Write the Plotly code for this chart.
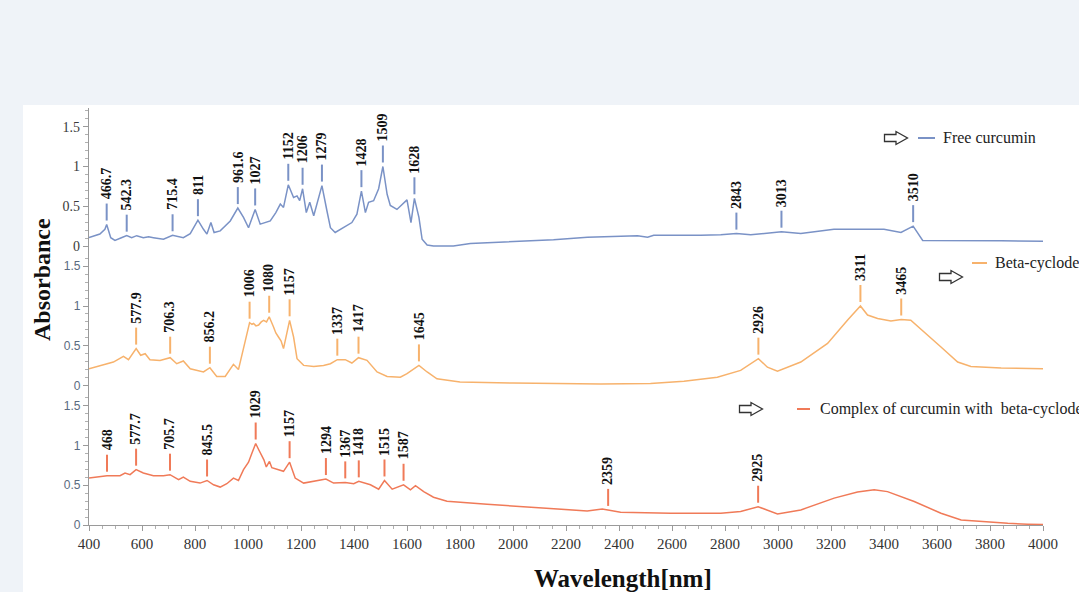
import numpy as np
import plotly.graph_objects as go

# ---- spectra (wavelength in nm, absorbance) ----
wl_free = [400, 441, 460, 466.7, 482, 498, 520, 542.3, 561, 580, 605, 625, 643, 681, 715.4, 735,
           756, 782, 811, 832, 845, 860, 872, 895, 933, 961.6, 983, 1002, 1027, 1046, 1084, 1105,
           1122, 1134, 1152, 1172, 1185, 1195, 1206, 1220, 1233, 1248, 1266, 1279, 1298, 1311,
           1329, 1361, 1392, 1411, 1428, 1443, 1455, 1474, 1493, 1509, 1525, 1537, 1562, 1600,
           1615, 1628, 1645, 1657, 1676, 1700, 1775, 1839, 1964, 2153, 2281, 2470, 2508, 2531,
           2708, 2784, 2843, 2897, 3013, 3086, 3211, 3400, 3464, 3510, 3546, 3653, 3842, 4000]
abs_free = [0.105, 0.15, 0.21, 0.27, 0.105, 0.07, 0.10, 0.13, 0.105, 0.13, 0.105, 0.115, 0.105,
            0.085, 0.135, 0.12, 0.105, 0.155, 0.325, 0.21, 0.15, 0.295, 0.17, 0.19, 0.315, 0.477,
            0.36, 0.23, 0.46, 0.275, 0.315, 0.42, 0.527, 0.485, 0.77, 0.61, 0.63, 0.57, 0.72,
            0.42, 0.55, 0.38, 0.61, 0.76, 0.44, 0.23, 0.17, 0.23, 0.295, 0.40, 0.69, 0.42, 0.55,
            0.57, 0.72, 1.0, 0.65, 0.51, 0.46, 0.58, 0.295, 0.60, 0.36, 0.085, 0.013, 0.0, 0.0,
            0.03, 0.05, 0.08, 0.11, 0.13, 0.11, 0.135, 0.135, 0.14, 0.156, 0.14, 0.18, 0.156,
            0.21, 0.21, 0.17, 0.25, 0.07, 0.065, 0.065, 0.06]

wl_beta = [400, 442, 492, 530, 549, 577.9, 595, 612, 630, 668, 706.3, 731, 756, 782, 832, 856.2,
           882, 914, 945, 964, 983, 1006, 1015, 1021, 1030, 1040, 1050, 1059, 1070, 1080, 1096,
           1105, 1115, 1125, 1134, 1147, 1157, 1172, 1185, 1210, 1248, 1285, 1311, 1337, 1367,
           1392, 1417, 1449, 1487, 1525, 1575, 1600, 1645, 1676, 1713, 1800, 2000, 2331, 2519,
           2645, 2771, 2859, 2926, 2960, 2998, 3086, 3187, 3262, 3288, 3311, 3338, 3376, 3426,
           3465, 3501, 3552, 3615, 3678, 3728, 3842, 4000]
abs_beta = [0.21, 0.25, 0.295, 0.367, 0.325, 0.464, 0.38, 0.40, 0.325, 0.316, 0.35, 0.274, 0.308,
            0.21, 0.17, 0.224, 0.114, 0.114, 0.266, 0.2, 0.485, 0.79, 0.77, 0.78, 0.75, 0.76,
            0.80, 0.82, 0.80, 0.865, 0.74, 0.66, 0.61, 0.56, 0.464, 0.654, 0.82, 0.61, 0.337,
            0.253, 0.24, 0.253, 0.274, 0.325, 0.325, 0.283, 0.35, 0.316, 0.17, 0.114, 0.105,
            0.148, 0.253, 0.17, 0.084, 0.045, 0.03, 0.02, 0.025, 0.055, 0.105, 0.19, 0.338, 0.23,
            0.18, 0.295, 0.53, 0.82, 0.92, 1.0, 0.886, 0.844, 0.81, 0.83, 0.82, 0.675, 0.485,
            0.295, 0.24, 0.22, 0.21]

wl_complex = [400, 442, 468, 517, 536, 555, 577.7, 605, 643, 681, 705.7, 738, 756, 782, 819, 845.5,
              870, 895, 920, 945, 964, 983, 1002, 1015, 1029, 1040, 1050, 1060, 1069, 1081, 1090,
              1110, 1134, 1157, 1178, 1210, 1248, 1294, 1323, 1367, 1399, 1418, 1462, 1493, 1515,
              1544, 1587, 1613, 1632, 1663, 1700, 1751, 1902, 2091, 2280, 2337, 2359, 2406, 2595,
              2784, 2859, 2925, 2998, 3086, 3212, 3300, 3363, 3413, 3514, 3615, 3691, 3766, 3867,
              3942, 4000]
abs_complex = [0.59, 0.61, 0.62, 0.62, 0.654, 0.633, 0.696, 0.654, 0.62, 0.62, 0.633, 0.57, 0.603,
               0.549, 0.527, 0.56, 0.506, 0.477, 0.519, 0.59, 0.56, 0.696, 0.79, 0.907, 1.025,
               0.95, 0.88, 0.82, 0.73, 0.80, 0.72, 0.70, 0.675, 0.79, 0.59, 0.527, 0.549, 0.578,
               0.527, 0.536, 0.519, 0.549, 0.506, 0.451, 0.56, 0.451, 0.506, 0.443, 0.494, 0.42,
               0.35, 0.30, 0.26, 0.22, 0.177, 0.20, 0.19, 0.16, 0.148, 0.148, 0.17, 0.23, 0.14,
               0.19, 0.338, 0.414, 0.443, 0.42, 0.295, 0.148, 0.063, 0.042, 0.021, 0.01, 0.005]

# ---- peak labels ----
peaks_free = ["466.7", "542.3", "715.4", "811", "961.6", "1027", "1152", "1206", "1279", "1428",
              "1509", "1628", "2843", "3013", "3510"]
peaks_beta = ["577.9", "706.3", "856.2", "1006", "1080", "1157", "1337", "1417", "1645", "2926",
              "3311", "3465"]
peaks_complex = ["468", "577.7", "705.7", "845.5", "1029", "1157", "1294", "1367", "1418", "1515",
                 "1587", "2359", "2925"]

series_names = ["Free curcumin", "Beta-cyclodextrin", "Complex of curcumin with  beta-cyclodextrin"]
colors = ["#7a92c6", "#f7b26c", "#f07a58"]

x_ticks = list(range(400, 4001, 200))
y_ticks = [0, 0.5, 1, 1.5]
y_ticktext = ["0", "0.5", "1", "1.5"]

# ---- figure geometry (pixels) ----
W, H = 1079, 592
ML, MR, MT, MB = 89, 36, 100, 67
PW, PH = W - ML - MR, H - MT - MB
PX_PER_UNIT = 79.5


def px_x(x):
    return (x - ML) / PW


def px_y(y):
    return (H - MB - y) / PH


# panel i: (zero line px, bottom px, top px)
panels = [(246, 252, 108), (385.5, 392, 252), (525, 525, 392)]

fig = go.Figure()
spectra = [(wl_free, abs_free), (wl_beta, abs_beta), (wl_complex, abs_complex)]
peak_sets = [peaks_free, peaks_beta, peaks_complex]
axis_ids = ["y", "y2", "y3"]

for i, ((wl, ab), name, col) in enumerate(zip(spectra, series_names, colors)):
    fig.add_trace(go.Scatter(x=wl, y=ab, mode="lines", name=name,
                             line=dict(color=col, width=1.5), xaxis="x", yaxis=axis_ids[i],
                             showlegend=False, hoverinfo="x+y"))

layout_axes = {}
for i, (zero, bot, top) in enumerate(panels):
    key = "yaxis" if i == 0 else f"yaxis{i + 1}"
    rng = [(zero - bot) / PX_PER_UNIT, (zero - top) / PX_PER_UNIT]
    tick_font = (dict(family="Liberation Serif", size=14, color="#3a3a3a") if i == 0
                 else dict(family="Arial, Liberation Sans", size=12, color="#5a6a80"))
    ax = dict(domain=[px_y(bot), px_y(top)], range=rng, anchor="x",
              tickvals=y_ticks, ticktext=y_ticktext, tickfont=tick_font,
              showline=True, linecolor="#9a9a9a", linewidth=1.2,
              ticks="outside", ticklen=5, tickcolor="#9a9a9a",
              minor=dict(dtick=0.1, ticks="outside", ticklen=3, tickcolor="#b0b0b0"),
              showgrid=False, zeroline=False, fixedrange=True)
    layout_axes[key] = ax

shapes = []
annotations = []

# white card behind the chart
shapes.append(dict(type="rect", xref="paper", yref="paper", layer="below",
                   x0=px_x(23), x1=px_x(1085), y0=px_y(600), y1=px_y(105),
                   fillcolor="white", line=dict(width=0)))

# peak markers: short stem above each peak, rotated label above the stem
for i, peaks in enumerate(peak_sets):
    wl, ab = spectra[i]
    yref = axis_ids[i]
    for lab in peaks:
        xv = float(lab)
        yv = float(np.interp(xv, wl, ab))
        shapes.append(dict(type="line", xref="x", yref=yref, x0=xv, x1=xv,
                           y0=yv + 4 / PX_PER_UNIT, y1=yv + 21 / PX_PER_UNIT,
                           line=dict(color=colors[i], width=2)))
        annotations.append(dict(x=xv, y=yv + 23 / PX_PER_UNIT, xref="x", yref=yref,
                                text=f"<b>{lab}</b>", showarrow=False, textangle=-90,
                                xanchor="center", yanchor="bottom",
                                font=dict(family="Liberation Serif", size=14, color="#111111")))


def arrow_path(cx, cy, w=23, h=13, shaft=7):
    """Outline block arrow pointing right, centred on (cx, cy) in pixels."""
    x0, xm, x1 = cx - w / 2, cx - w / 2 + w * 0.5, cx + w / 2
    pts = [(x0, cy - shaft / 2), (xm, cy - shaft / 2), (xm, cy - h / 2), (x1, cy),
           (xm, cy + h / 2), (xm, cy + shaft / 2), (x0, cy + shaft / 2)]
    d = "M " + " L ".join(f"{px_x(px):.5f},{px_y(py):.5f}" for px, py in pts) + " Z"
    return d


# in-panel legends: outline arrow, coloured dash, series name
legend_pos = [  # (arrow cx, arrow cy, dash x0, dash x1, dash y, text x)
    (896, 138, 918, 935, 138, 941),
    (951, 277, 972, 987, 263, 993),
    (751, 409, 797, 810, 409, 818),
]
for i, (acx, acy, dx0, dx1, dy, tx) in enumerate(legend_pos):
    shapes.append(dict(type="path", xref="paper", yref="paper", path=arrow_path(acx, acy),
                       fillcolor="white", line=dict(color="#333333", width=1.3)))
    shapes.append(dict(type="line", xref="paper", yref="paper",
                       x0=px_x(dx0), x1=px_x(dx1), y0=px_y(dy), y1=px_y(dy),
                       line=dict(color=colors[i], width=2)))
    annotations.append(dict(x=px_x(tx), y=px_y(dy), xref="paper", yref="paper",
                            text=series_names[i], showarrow=False, xanchor="left",
                            yanchor="middle",
                            font=dict(family="Liberation Serif", size=16, color="#222222")))

# axis titles
annotations.append(dict(x=px_x(42), y=px_y(280), xref="paper", yref="paper",
                        text="<b>Absorbance</b>", showarrow=False, textangle=-90,
                        xanchor="center", yanchor="middle",
                        font=dict(family="Liberation Serif", size=24, color="#111111")))
annotations.append(dict(x=px_x(623), y=px_y(578), xref="paper", yref="paper",
                        text="<b>Wavelength[nm]</b>", showarrow=False,
                        xanchor="center", yanchor="middle",
                        font=dict(family="Liberation Serif", size=25, color="#111111")))

fig.update_layout(
    width=W, height=H,
    margin=dict(l=ML, r=MR, t=MT, b=MB),
    paper_bgcolor="#eff3f8", plot_bgcolor="white",
    xaxis=dict(range=[400, 4000], anchor="y3", tickvals=x_ticks,
               tickfont=dict(family="Liberation Serif", size=15, color="#333333"),
               showline=True, linecolor="#9a9a9a", linewidth=1.2,
               ticks="outside", ticklen=5, tickcolor="#9a9a9a",
               minor=dict(dtick=50, ticks="outside", ticklen=3, tickcolor="#b0b0b0"),
               showgrid=False, zeroline=False, fixedrange=True),
    shapes=shapes, annotations=annotations,
    **layout_axes,
)

fig.write_html("out.html")
